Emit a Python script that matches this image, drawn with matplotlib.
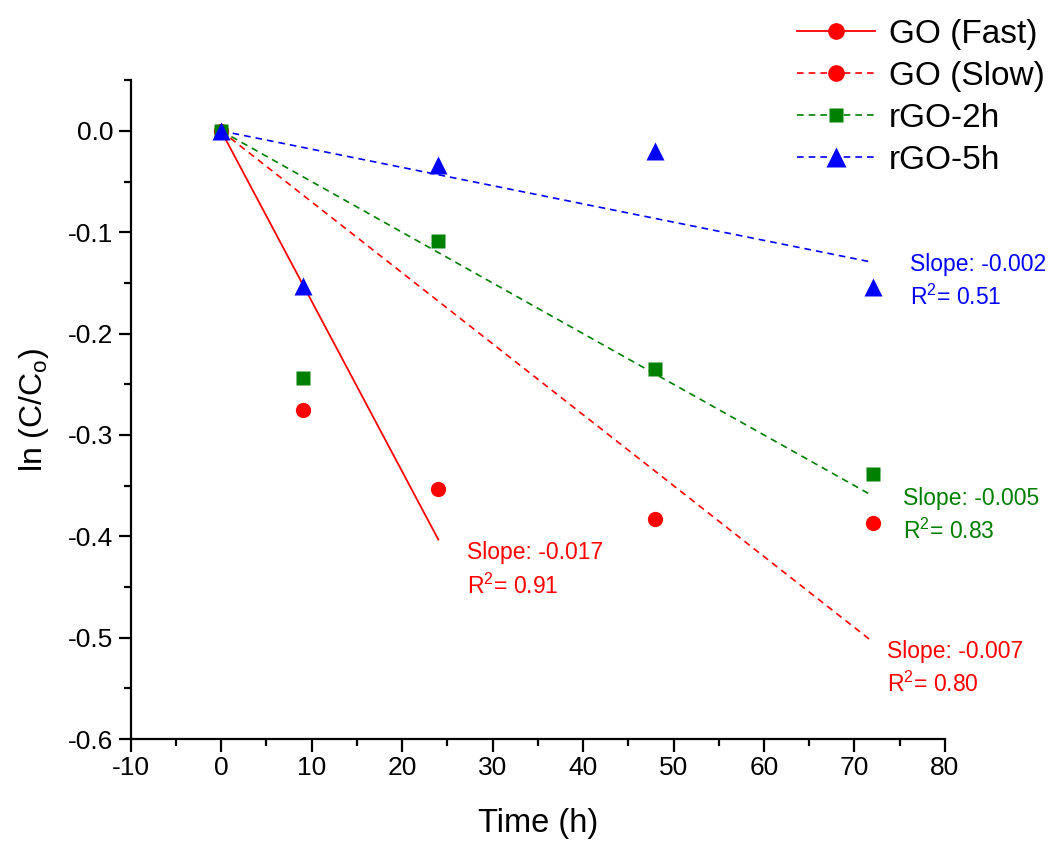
import matplotlib
matplotlib.use("Agg")
import matplotlib.pyplot as plt
from matplotlib.lines import Line2D
from matplotlib.ticker import MultipleLocator
import numpy as np

plt.rcParams['font.family'] = ['Liberation Sans', 'DejaVu Sans']
plt.rcParams['mathtext.fontset'] = 'custom'
plt.rcParams['mathtext.rm'] = 'Liberation Sans'
plt.rcParams['axes.unicode_minus'] = False

time_h = [0, 9, 24, 48, 72]
go_vals = [0.0, -0.275, -0.353, -0.383, -0.387]
rgo2_vals = [0.0, -0.244, -0.109, -0.235, -0.339]
rgo5_vals = [0.0, -0.153, -0.034, -0.020, -0.154]

# fitted lines (x range, slope)
fast_x = [0, 24]
fast_slope = -0.0168
slow_x = [0, 72]
slow_slope = -0.0070
rgo2_x = [0, 72]
rgo2_slope = -0.0050
rgo5_x = [0, 72]
rgo5_slope = -0.0018

labels = ['GO (Fast)', 'GO (Slow)', 'rGO-2h', 'rGO-5h']
ann_text = ['Slope: -0.017\nR$^\\mathregular{2}$= 0.91',
            'Slope: -0.007\nR$^\\mathregular{2}$= 0.80',
            'Slope: -0.005\nR$^\\mathregular{2}$= 0.83',
            'Slope: -0.002\nR$^\\mathregular{2}$= 0.51']
ann_pos = [(27.2, -0.405), (73.6, -0.502), (75.4, -0.351), (76.1, -0.120)]
ann_col = ['#ff0000', '#ff0000', '#008000', '#0000ff']

fig = plt.figure(figsize=(10.55, 8.44), dpi=100)
ax = fig.add_axes([0.1239, 0.1244, 0.8957 - 0.1239, 0.9049 - 0.1244])

red, green, blue = '#ff0000', '#008000', '#0000ff'

def fit(xr, s):
    x = np.array(xr, dtype=float)
    return x, s * x

x, y = fit(fast_x, fast_slope)
ax.plot(x, y, color=red, lw=1.3, ls='-')
x, y = fit(slow_x, slow_slope)
ax.plot(x, y, color=red, lw=1.2, ls=(0, (4, 3)))
x, y = fit(rgo2_x, rgo2_slope)
ax.plot(x, y, color=green, lw=1.2, ls=(0, (4, 3)))
x, y = fit(rgo5_x, rgo5_slope)
ax.plot(x, y, color=blue, lw=1.2, ls=(0, (4, 3)))

ax.plot(time_h, go_vals, 'o', color=red, ms=11, mec='none', zorder=3)
ax.plot(time_h, rgo2_vals, 's', color=green, ms=9.5, mec='none', zorder=3)
ax.plot(time_h, rgo5_vals, '^', color=blue, ms=13, mec='none', zorder=4)

for t, p, c in zip(ann_text, ann_pos, ann_col):
    ax.text(p[0], p[1], t, color=c, fontsize=16.5, va='top', ha='left', linespacing=1.45)

ax.set_xlim(-10, 80)
ax.set_ylim(-0.6, 0.05)
ax.xaxis.set_major_locator(MultipleLocator(10))
ax.xaxis.set_minor_locator(MultipleLocator(5))
ax.yaxis.set_minor_locator(MultipleLocator(0.05))
ax.set_yticks(np.arange(-0.6, 0.01, 0.1))
ax.set_yticklabels(['-0.6', '-0.5', '-0.4', '-0.3', '-0.2', '-0.1', '0.0'])
for s in ['top', 'right']:
    ax.spines[s].set_visible(False)
for s in ['left', 'bottom']:
    ax.spines[s].set_linewidth(1.6)
ax.tick_params(which='major', direction='out', length=9, width=1.6, labelsize=19, pad=3.5)
ax.tick_params(which='minor', direction='out', length=5, width=1.6)

ax.set_xlabel('Time (h)', fontsize=23.5, labelpad=20)
ax.set_ylabel('ln (C/C$_\\mathregular{o}$)', fontsize=23, labelpad=12)

handles = [
    Line2D([], [], color=red, lw=1.3, ls='-', marker='o', ms=12, mec='none'),
    Line2D([], [], color=red, lw=1.2, ls=(0, (4, 3)), marker='o', ms=12, mec='none'),
    Line2D([], [], color=green, lw=1.2, ls=(0, (4, 3)), marker='s', ms=10.5, mec='none'),
    Line2D([], [], color=blue, lw=1.2, ls=(0, (4, 3)), marker='^', ms=14, mec='none'),
]
fig.legend(handles, labels, loc='upper left', bbox_to_anchor=(0.7555, 0.978),
           frameon=False, fontsize=24, handlelength=2.35, handletextpad=0.4,
           labelspacing=0.33, borderaxespad=0, borderpad=0)

fig.savefig('out.png', dpi=100)
